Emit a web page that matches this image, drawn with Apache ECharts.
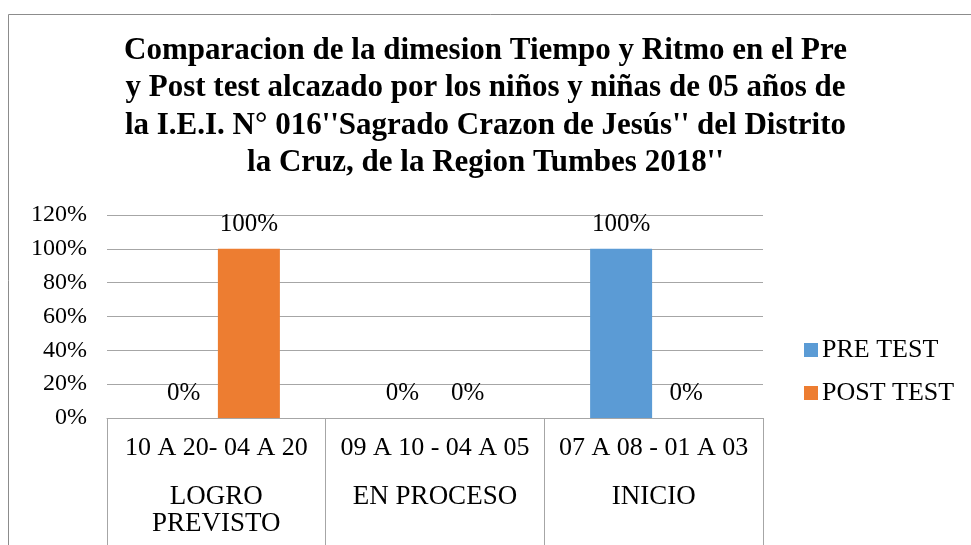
<!DOCTYPE html>
<html><head><meta charset="utf-8">
<script src="https://cdn.jsdelivr.net/npm/echarts@6/dist/echarts.min.js"></script>
<style>html,body{margin:0;padding:0;background:#fff}#c{width:971px;height:545px}</style>
</head><body><div id="c"></div>
<script>
const titleLines = [
  'Comparacion de la dimesion Tiempo y Ritmo en el Pre',
  'y Post test alcazado por los niños y niñas de 05 años de',
  'la I.E.I. N° 016\'\'Sagrado Crazon de Jesús\'\' del Distrito',
  'la Cruz, de la Region Tumbes 2018\'\''
];
const ranges = ['10 A 20- 04 A 20', '09 A 10 - 04 A 05', '07 A 08 - 01 A 03'];
const levels = ['LOGRO\nPREVISTO', 'EN PROCESO', 'INICIO'];
const seriesNames = ['PRE TEST', 'POST TEST'];
const preTest = [0, 0, 1];
const postTest = [1, 0, 0];

const font = 'Liberation Serif';
const chart = echarts.init(document.getElementById('c'));
const pct = v => Math.round(v * 100) + '%';
const labelCfg = {show: true, position: 'top', distance: 12, color: '#000', fontFamily: font, fontSize: 25, formatter: p => pct(p.value)};
chart.setOption({
  animation: false,
  color: ['#5B9BD5', '#ED7D31'],
  graphic: [
    {type: 'rect', shape: {x: 8.5, y: 14.5, width: 1200, height: 800}, style: {fill: 'none', stroke: '#8c8c8c', lineWidth: 1}, silent: true}
  ].concat(titleLines.map((t, i) => ({type: 'text', left: 'center', top: 35 + i * 37.5, silent: true,
    style: {text: t, fontFamily: font, fontWeight: 'bold', fontSize: 31, fill: '#000'}}))),
  legend: {orient: 'vertical', left: 799, top: 332, itemWidth: 14, itemHeight: 14, itemGap: 17,
    icon: 'rect', data: seriesNames,
    textStyle: {fontFamily: font, fontSize: 26, color: '#000', padding: [0, 0, 0, -1]}},
  grid: {left: 107, right: 208, top: 215, bottom: 127},
  xAxis: [{
    type: 'category', data: ranges, position: 'bottom',
    axisLine: {lineStyle: {color: '#a6a6a6'}},
    axisTick: {show: true, length: 140, lineStyle: {color: '#a6a6a6'}},
    axisLabel: {interval: 0, margin: 17, color: '#000', fontFamily: font, fontSize: 26}
  }, {
    type: 'category', data: levels, position: 'bottom',
    axisLine: {show: false}, axisTick: {show: false},
    axisLabel: {interval: 0, margin: 65, color: '#000', fontFamily: font, fontSize: 27, lineHeight: 27}
  }],
  yAxis: {
    type: 'value', min: 0, max: 1.2, interval: 0.2,
    axisLine: {show: false}, axisTick: {show: false},
    splitLine: {lineStyle: {color: '#a6a6a6'}},
    axisLabel: {margin: 20, color: '#000', fontFamily: font, fontSize: 24, formatter: v => pct(v)}
  },
  series: [
    {name: seriesNames[0], type: 'bar', data: preTest, barWidth: 62, barGap: '5%', label: labelCfg},
    {name: seriesNames[1], type: 'bar', data: postTest, barWidth: 62, barGap: '5%', label: labelCfg}
  ]
});
</script></body></html>
